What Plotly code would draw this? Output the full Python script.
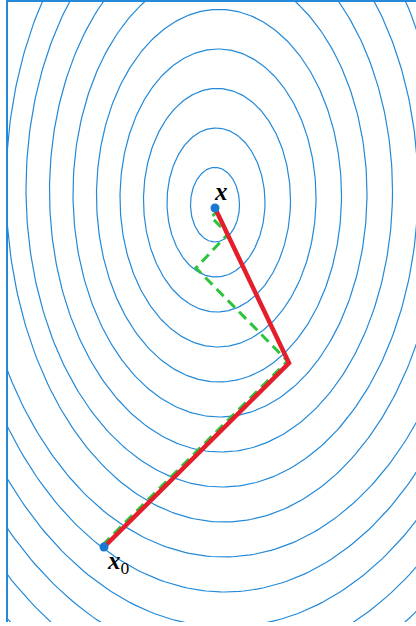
import numpy as np
import plotly.graph_objects as go

# Level curves of the objective: one ellipse per level (centre, half-width, half-height)
ring_cx = [207, 208, 209, 210, 211, 212, 213, 214, 216, 216, 217, 218, 219, 220, 221]
ring_cy = [417.3, 419.5, 421.8, 424.0, 426.3, 428.5, 430.8, 433.0, 435.3, 437.5, 439.8, 442.0, 444.3, 446.5, 448.8]
ring_a = [24.5, 49.0, 73.5, 98.0, 122.5, 147.0, 171.5, 196.0, 218.0, 250.0, 271.0, 294.0, 318.5, 343.0, 367.5]
ring_b = [37.3, 74.5, 111.8, 149.0, 186.3, 223.5, 260.8, 298.0, 335.3, 372.5, 409.8, 447.0, 484.3, 521.5, 558.8]

# Starting point, minimiser and the two search paths
x_start = (96, 75)
x_min = (207, 414)
cg_x = [96, 281, 207]                            # conjugate directions
cg_y = [75, 259, 414]
sd_x = [94.5, 279.5, 188, 220, 203, 209, 207]    # steepest descent
sd_y = [77, 261, 354, 388, 405, 410, 414]

x_range = [0, 408]
y_range = [0, 620]

t = np.linspace(0, 2 * np.pi, 361)
ex, ey = [], []
for cx, cy, a, b in zip(ring_cx, ring_cy, ring_a, ring_b):
    ex += list(cx + a * np.cos(t)) + [None]
    ey += list(cy + b * np.sin(t)) + [None]

blue = "#2389d8"
fig = go.Figure()
fig.add_trace(go.Scatter(
    x=ex, y=ey, mode="lines",
    line=dict(color=blue, width=1.2),
    hoverinfo="skip",
))
fig.add_trace(go.Scatter(
    x=sd_x, y=sd_y, mode="lines",
    line=dict(color="#2bc43a", width=3, dash="10px,6px"),
    hoverinfo="skip",
))
fig.add_trace(go.Scatter(
    x=cg_x, y=cg_y, mode="lines",
    line=dict(color="#e41e2b", width=4.5),
    hoverinfo="skip",
))
fig.add_trace(go.Scatter(
    x=[x_start[0], x_min[0]], y=[x_start[1], x_min[1]], mode="markers",
    marker=dict(color="#1a78d2", size=9),
    hoverinfo="skip",
))

label_font = dict(family="Liberation Serif", size=25, color="black")
fig.add_annotation(x=x_min[0], y=x_min[1], text="<b><i>x</i></b>", showarrow=False,
                   xanchor="center", yanchor="bottom", xshift=6, yshift=1,
                   font=label_font)
fig.add_annotation(x=x_start[0], y=x_start[1], text="<b><i>x</i></b><sub>0</sub>",
                   showarrow=False, xanchor="left", yanchor="top", xshift=1, yshift=2,
                   font=label_font)

fig.update_layout(
    width=416, height=626,
    margin=dict(l=8, r=0, t=2, b=4),
    paper_bgcolor="white", plot_bgcolor="white",
    showlegend=False,
    xaxis=dict(range=x_range, side="top", showline=True, linecolor=blue, linewidth=2,
               showgrid=False, zeroline=False, showticklabels=False, ticks=""),
    yaxis=dict(range=y_range, showline=True, linecolor=blue, linewidth=2,
               showgrid=False, zeroline=False, showticklabels=False, ticks=""),
)

fig.write_html("out.html")
